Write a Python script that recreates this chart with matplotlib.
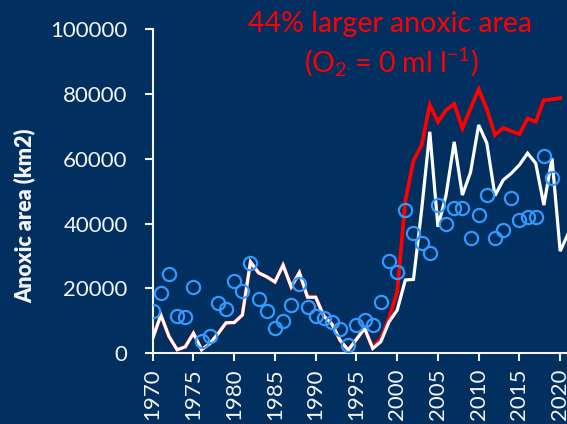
import numpy as np
import matplotlib
matplotlib.use('Agg')
import matplotlib.pyplot as plt

plt.rcParams['font.family'] = ['Lato', 'DejaVu Sans']
plt.rcParams['mathtext.fontset'] = 'custom'
plt.rcParams['mathtext.rm'] = 'Lato'
plt.rcParams['mathtext.it'] = 'Lato'

BG = '#012F5F'
FG = '#F4F4F4'

# modelled anoxic area (white line)
years = np.arange(1970, 2022)
anoxic_model = [
  4600, 11800, 5200, 1100, 2000, 6200, 1100, 3000, 6000, 9400,
  9500, 11800, 28200, 24800, 23600, 22000, 27200, 20500, 24900, 17300,
  17300, 11500, 9000, 4000, 1000, 4300, 7700, 1500, 3600, 9700,
  13300, 22600, 22800, 44200, 68300, 39000, 48800, 65200, 48800, 55800,
  70400, 64800, 48600, 53400, 55500, 58100, 61700, 58600, 45700, 60100,
  31500, 37000]

# anoxic area with O2 = 0 ml/l (red line)
years_zero = np.arange(1970, 2021)
anoxic_zero = [
  4600, 11800, 5200, 1100, 2000, 6200, 1100, 3000, 6000, 9400,
  9500, 11800, 28200, 24800, 23600, 22000, 27200, 20500, 24900, 17300,
  17300, 11500, 9000, 4000, 1000, 4300, 7700, 1800, 4600, 10800,
  19000, 47000, 59400, 64200, 76600, 71400, 75000, 76900, 69400, 75500,
  81400, 75300, 67300, 69500, 68500, 67600, 72400, 71400, 78100, 78300,
  78700]

# observed anoxic area (circles)
years_obs = np.arange(1970, 2020)
anoxic_obs = [
  13100, 18500, 24500, 11500, 11100, 20500, 3900, 5300, 15400, 13700,
  22400, 19300, 27700, 16700, 13000, 7700, 10000, 14900, 21300, 14400,
  11500, 11000, 9700, 7400, 2600, 8700, 10200, 8600, 15900, 28500,
  25000, 44200, 37000, 33900, 31000, 45700, 39900, 44700, 44900, 35500,
  42600, 48800, 35600, 38000, 48000, 41100, 41900, 42100, 60800, 54000]

x_ticks = np.arange(1970, 2021, 5)
y_ticks = np.arange(0, 100001, 20000)


fig = plt.figure(figsize=(5.67, 4.24), dpi=100)
fig.patch.set_facecolor(BG)
ax = fig.add_axes([0.2693, 0.1667, 0.7474, 0.7649])
ax.set_facecolor(BG)

ax.plot(years_zero, anoxic_zero, color='#FF0000', lw=2.7, solid_joinstyle='miter', zorder=2)
ax.plot(years, anoxic_model, color='white', lw=2.3, solid_joinstyle='miter', zorder=3)
ax.plot(years_obs, anoxic_obs, ls='none', marker='o', ms=9.5, mfc='none',
        mec='#3399FF', mew=1.6, zorder=4)

ax.set_xlim(1970, 2022)
ax.set_ylim(0, 100000)
ax.set_xticks(x_ticks)
ax.set_yticks(y_ticks)
ax.set_xticklabels([str(t) for t in x_ticks], rotation=90)
ax.tick_params(colors=FG, labelsize=16, width=1.5, length=6)
ax.tick_params(axis='y', pad=12)
ax.tick_params(axis='x', pad=5)
for side in ['top', 'right']:
  ax.spines[side].set_visible(False)
for side in ['left', 'bottom']:
  ax.spines[side].set_color(FG)
  ax.spines[side].set_linewidth(1.5)

fig.text(0.044, 0.49, 'Anoxic area (km2)', rotation=90, color=FG,
         fontsize=15.5, fontweight='heavy', ha='center', va='center')

fig.text(0.688, 0.944, '44% larger anoxic area', color='#FF0000',
         fontsize=20.5, ha='center', va='center')
fig.text(0.691, 0.852, '(O$_2$ = 0 ml l$^{-1}$)', color='#FF0000',
         fontsize=20.5, ha='center', va='center')

fig.savefig('out.png', dpi=100, facecolor=BG)
